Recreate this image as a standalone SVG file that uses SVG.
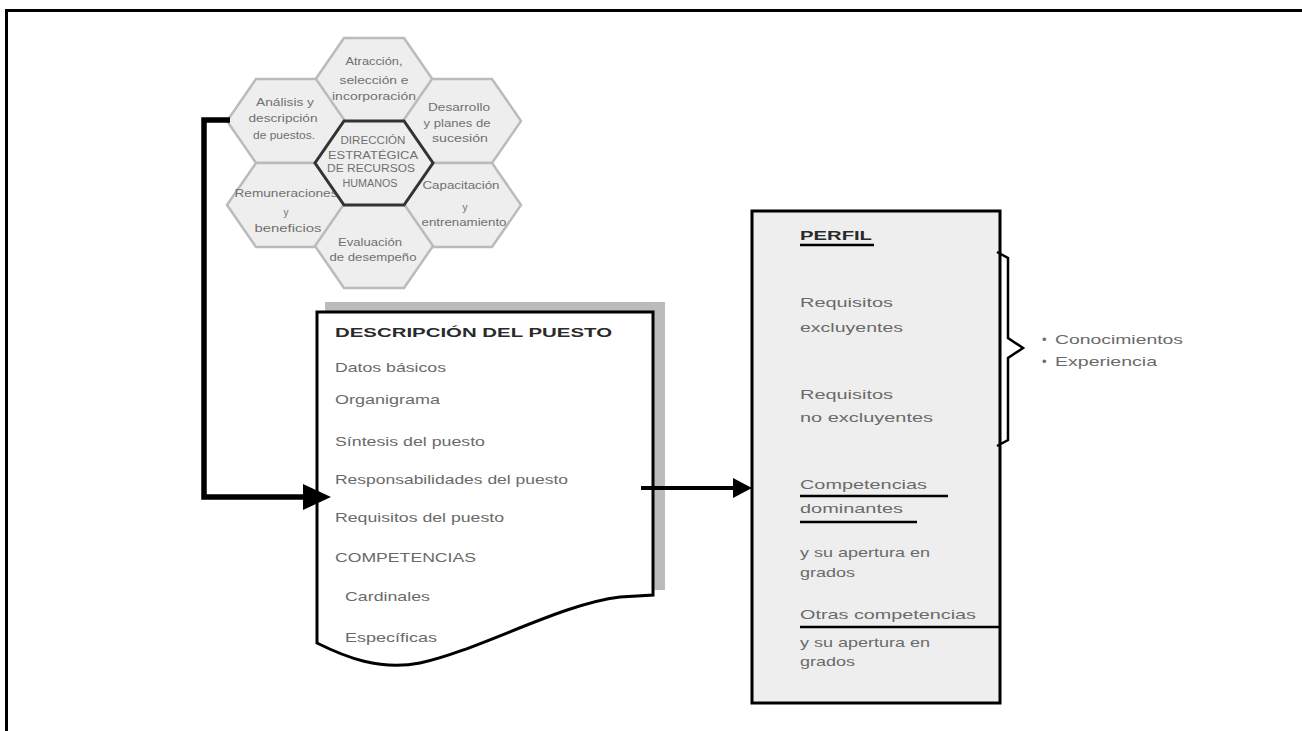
<svg xmlns="http://www.w3.org/2000/svg" xmlns:xlink="http://www.w3.org/1999/xlink" width="1302" height="731" viewBox="0 0 1302 731">
  <style>
    .hexo { fill: #eeeeee; stroke: #bbbbbb; stroke-width: 2.5; }
    .hexc { fill: #eeeeee; stroke: #333333; stroke-width: 3; }
    .hl { font-family: "Liberation Sans", Arial, sans-serif; font-size: 10px; fill: #707070; text-anchor: middle; }
    .t { font-family: "Liberation Sans", Arial, sans-serif; font-size: 13px; fill: #6a6a6a; }
    .h { font-family: "Liberation Sans", Arial, sans-serif; font-size: 13px; font-weight: bold; fill: #2a2a2a; }
    .ul { stroke: #000; stroke-width: 2.5; }
    .conn { fill: none; stroke: #000; }
  </style>
  <defs>
    <polygon id="hex" points="-30,-42 30,-42 59,0 30,42 -30,42 -59,0"/>
  </defs>

  <rect width="1302" height="731" fill="#ffffff"/>

  <!-- outer frame (top and left edges) -->
  <path d="M6.5,731 V10.5 H1302" fill="none" stroke="#000" stroke-width="3"/>

  <!-- honeycomb of HR processes -->
  <g id="hex-atraccion">
    <use xlink:href="#hex" class="hexo" transform="translate(374,80)"/>
    <text class="hl" x="374" y="65" textLength="57" lengthAdjust="spacingAndGlyphs">Atracción,</text>
    <text class="hl" x="374" y="84" textLength="69" lengthAdjust="spacingAndGlyphs">selección e</text>
    <text class="hl" x="374" y="100" textLength="84" lengthAdjust="spacingAndGlyphs">incorporación</text>
  </g>
  <g id="hex-analisis">
    <use xlink:href="#hex" class="hexo" transform="translate(286,121)"/>
    <text class="hl" x="285" y="106" textLength="58" lengthAdjust="spacingAndGlyphs">Análisis y</text>
    <text class="hl" x="283" y="122" textLength="69" lengthAdjust="spacingAndGlyphs">descripción</text>
    <text class="hl" x="284" y="139" textLength="62" lengthAdjust="spacingAndGlyphs">de puestos.</text>
  </g>
  <g id="hex-desarrollo">
    <use xlink:href="#hex" class="hexo" transform="translate(462,121)"/>
    <text class="hl" x="459" y="111" textLength="62" lengthAdjust="spacingAndGlyphs">Desarrollo</text>
    <text class="hl" x="457" y="127" textLength="67" lengthAdjust="spacingAndGlyphs">y planes de</text>
    <text class="hl" x="460" y="142" textLength="56" lengthAdjust="spacingAndGlyphs">sucesión</text>
  </g>
  <g id="hex-remuneraciones">
    <use xlink:href="#hex" class="hexo" transform="translate(286,205)"/>
    <text class="hl" x="286" y="197" textLength="103" lengthAdjust="spacingAndGlyphs">Remuneraciones</text>
    <text class="hl" x="286" y="216">y</text>
    <text class="hl" x="288" y="232" textLength="67" lengthAdjust="spacingAndGlyphs">beneficios</text>
  </g>
  <g id="hex-capacitacion">
    <use xlink:href="#hex" class="hexo" transform="translate(462,205)"/>
    <text class="hl" x="461" y="189" textLength="77" lengthAdjust="spacingAndGlyphs">Capacitación</text>
    <text class="hl" x="465" y="211">y</text>
    <text class="hl" x="464" y="226" textLength="85" lengthAdjust="spacingAndGlyphs">entrenamiento</text>
  </g>
  <g id="hex-evaluacion">
    <use xlink:href="#hex" class="hexo" transform="translate(374,246)"/>
    <text class="hl" x="370" y="246" textLength="64" lengthAdjust="spacingAndGlyphs">Evaluación</text>
    <text class="hl" x="373" y="261" textLength="87" lengthAdjust="spacingAndGlyphs">de desempeño</text>
  </g>
  <g id="hex-direccion">
    <use xlink:href="#hex" class="hexc" transform="translate(374,163)"/>
    <text class="hl" x="373" y="144" textLength="65" lengthAdjust="spacingAndGlyphs">DIRECCIÓN</text>
    <text class="hl" x="373" y="159" textLength="90" lengthAdjust="spacingAndGlyphs">ESTRATÉGICA</text>
    <text class="hl" x="371" y="172" textLength="88" lengthAdjust="spacingAndGlyphs">DE RECURSOS</text>
    <text class="hl" x="370" y="187" textLength="55" lengthAdjust="spacingAndGlyphs">HUMANOS</text>
  </g>

  <!-- job description sheet -->
  <g id="descripcion">
    <path d="M325,302 H665 V590 H653 V312 H325 Z" fill="#bbbbbb"/>
    <path d="M317,312 H653 V595 L620,597 C560,604 480,650 420,663 C380,671 345,657 317,643 Z" fill="#ffffff" stroke="#000" stroke-width="3" stroke-linejoin="miter"/>
    <text class="h" x="335" y="337" textLength="277" lengthAdjust="spacingAndGlyphs">DESCRIPCIÓN DEL PUESTO</text>
    <text class="t" x="335" y="372" textLength="111" lengthAdjust="spacingAndGlyphs">Datos básicos</text>
    <text class="t" x="335" y="404" textLength="105" lengthAdjust="spacingAndGlyphs">Organigrama</text>
    <text class="t" x="335" y="446" textLength="150" lengthAdjust="spacingAndGlyphs">Síntesis del puesto</text>
    <text class="t" x="335" y="484" textLength="233" lengthAdjust="spacingAndGlyphs">Responsabilidades del puesto</text>
    <text class="t" x="335" y="522" textLength="169" lengthAdjust="spacingAndGlyphs">Requisitos del puesto</text>
    <text class="t" x="335" y="562" textLength="141" lengthAdjust="spacingAndGlyphs">COMPETENCIAS</text>
    <text class="t" x="345" y="601" textLength="85" lengthAdjust="spacingAndGlyphs">Cardinales</text>
    <text class="t" x="345" y="642" textLength="92" lengthAdjust="spacingAndGlyphs">Específicas</text>
  </g>

  <!-- profile box -->
  <g id="perfil">
    <rect x="752" y="211" width="248" height="492" fill="#eeeeee" stroke="#000" stroke-width="3"/>
    <text class="h" x="800" y="240" textLength="72" lengthAdjust="spacingAndGlyphs">PERFIL</text>
    <line class="ul" x1="800" y1="245" x2="874" y2="245"/>
    <text class="t" x="800" y="307" textLength="93" lengthAdjust="spacingAndGlyphs">Requisitos</text>
    <text class="t" x="800" y="332" textLength="103" lengthAdjust="spacingAndGlyphs">excluyentes</text>
    <text class="t" x="800" y="399" textLength="93" lengthAdjust="spacingAndGlyphs">Requisitos</text>
    <text class="t" x="800" y="422" textLength="133" lengthAdjust="spacingAndGlyphs">no excluyentes</text>
    <text class="t" x="800" y="489" textLength="127" lengthAdjust="spacingAndGlyphs">Competencias</text>
    <line class="ul" x1="800" y1="496" x2="948" y2="496"/>
    <text class="t" x="800" y="513" textLength="103" lengthAdjust="spacingAndGlyphs">dominantes</text>
    <line class="ul" x1="800" y1="522" x2="917" y2="522"/>
    <text class="t" x="800" y="557" textLength="130" lengthAdjust="spacingAndGlyphs">y su apertura en</text>
    <text class="t" x="800" y="577" textLength="55" lengthAdjust="spacingAndGlyphs">grados</text>
    <text class="t" x="800" y="619" textLength="176" lengthAdjust="spacingAndGlyphs">Otras competencias</text>
    <line class="ul" x1="800" y1="627" x2="1000" y2="627"/>
    <text class="t" x="800" y="647" textLength="130" lengthAdjust="spacingAndGlyphs">y su apertura en</text>
    <text class="t" x="800" y="666" textLength="55" lengthAdjust="spacingAndGlyphs">grados</text>
  </g>

  <!-- requirements brace and list -->
  <g id="requisitos">
    <path d="M997,252 L1008,258 V338 L1023,348 L1008,358 V440 L997,446" fill="none" stroke="#000" stroke-width="2.5"/>
    <text class="t" x="1042" y="344"><tspan>•</tspan><tspan x="1055" textLength="128" lengthAdjust="spacingAndGlyphs">Conocimientos</tspan></text>
    <text class="t" x="1042" y="366"><tspan>•</tspan><tspan x="1055" textLength="102" lengthAdjust="spacingAndGlyphs">Experiencia</tspan></text>
  </g>

  <!-- connectors -->
  <g id="connectors">
    <path class="conn" d="M230,120 H204 V497 H306" stroke-width="5.5"/>
    <polygon points="303,484 331,497 303,510" fill="#000"/>
    <path class="conn" d="M641,488 H736" stroke-width="4"/>
    <polygon points="733,478 752,488 733,498" fill="#000"/>
  </g>
</svg>
